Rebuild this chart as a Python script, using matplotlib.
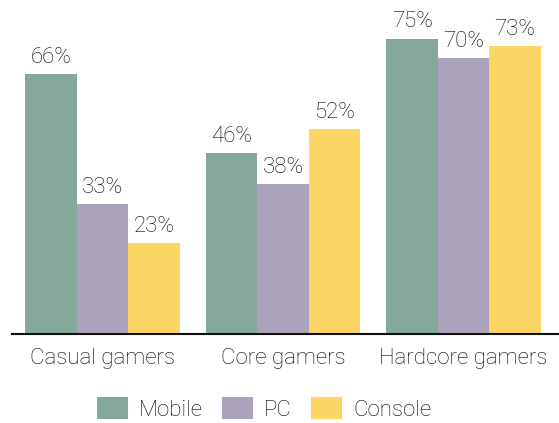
import numpy as np
import matplotlib
matplotlib.use("Agg")
from matplotlib import pyplot as plt

groups = ["Casual gamers", "Core gamers", "Hardcore gamers"]
series = ["Mobile", "PC", "Console"]
mobile = [66, 46, 75]
pc = [33, 38, 70]
console = [23, 52, 73]
colors = ["#86a89b", "#aba3bb", "#fbd665"]

plt.rcParams["font.family"] = ["Roboto", "DejaVu Sans"]
text_color = "#000000"
fs = 16

fig = plt.figure(figsize=(5.59, 4.23), dpi=100)
ax = fig.add_axes([12 / 559, 89 / 423, 547 / 559, 334 / 423])

x = np.arange(len(groups))
width = 0.285
for i, (name, vals) in enumerate(zip(series, [mobile, pc, console])):
  pos = x + (i - 1) * width
  bars = ax.bar(pos, vals, width=width, color=colors[i], label=name,
                linewidth=0)
  for b, v in zip(bars, vals):
    ax.text(b.get_x() + b.get_width() / 2, v + 1.6, "%d%%" % v,
            ha="center", va="bottom", fontsize=fs, color=text_color,
            fontweight="light")

ax.set_xlim(-0.501, 2.529)
ax.set_ylim(0, 84.8)
ax.set_xticks(x)
ax.set_xticklabels(groups, fontsize=fs, color=text_color, fontweight="light")
ax.tick_params(axis="x", length=0, pad=10)
ax.set_yticks([])
for side in ["top", "right", "left"]:
  ax.spines[side].set_visible(False)
ax.spines["bottom"].set_color("#111111")
ax.spines["bottom"].set_linewidth(1.5)

fig.legend(loc="center", bbox_to_anchor=(264 / 559, 1 - 409 / 423), ncol=3,
           frameon=False, handlelength=1.4, handleheight=1.15,
           handletextpad=0.5, columnspacing=0.85,
           prop={"size": fs, "weight": "light"}, labelcolor=text_color)

fig.savefig("out.png", dpi=100)
